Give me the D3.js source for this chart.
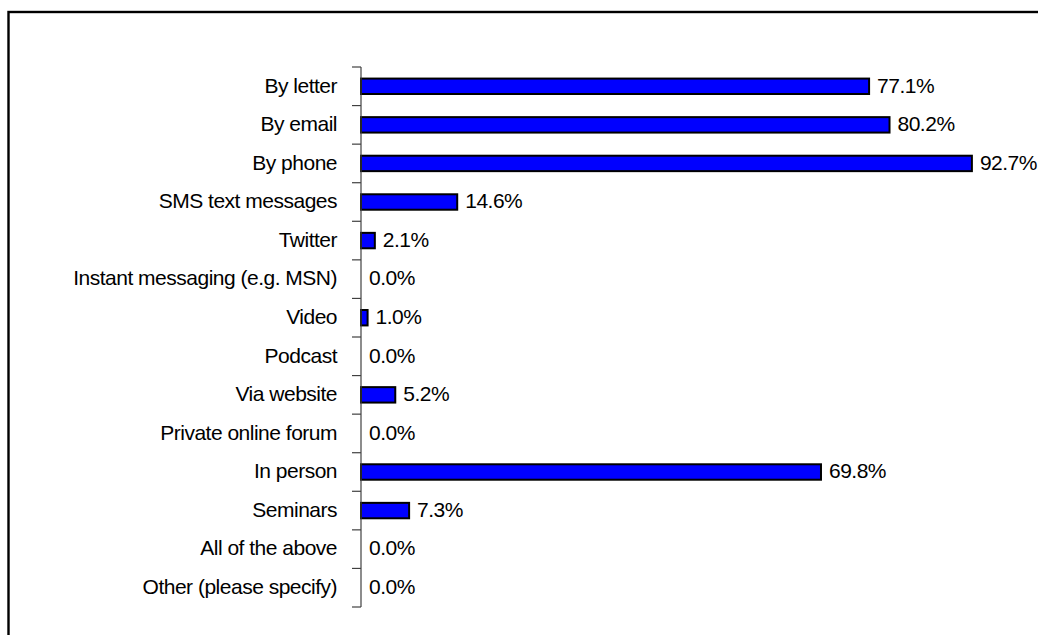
<!DOCTYPE html>
<html>
<head>
<meta charset="utf-8">
<script src="https://cdn.jsdelivr.net/npm/d3@7"></script>
<style>
  html, body { margin: 0; padding: 0; background: #fff; }
  svg { display: block; }
  text { font-family: "Liberation Sans", Arial, sans-serif; fill: #000; font-size: 21px; letter-spacing: -0.5px; }
</style>
</head>
<body>
<svg id="chart" width="1038" height="635"></svg>
<script>
// Contact channels and the share of respondents choosing each one (%)
const categories = [
  "By letter",
  "By email",
  "By phone",
  "SMS text messages",
  "Twitter",
  "Instant messaging (e.g. MSN)",
  "Video",
  "Podcast",
  "Via website",
  "Private online forum",
  "In person",
  "Seminars",
  "All of the above",
  "Other (please specify)"
];
const values = [77.1, 80.2, 92.7, 14.6, 2.1, 0.0, 1.0, 0.0, 5.2, 0.0, 69.8, 7.3, 0.0, 0.0];

const svg = d3.select("#chart");

// Outer frame (runs off the right and bottom edges)
svg.append("rect")
  .attr("x", 8.5).attr("y", 12)
  .attr("width", 1100).attr("height", 700)
  .attr("fill", "none")
  .attr("stroke", "#000")
  .attr("stroke-width", 2.4);

const x0 = 361, x1 = 1020, yTop = 67, yBottom = 607;

const x = d3.scaleLinear().domain([0, 100]).range([x0, x1]);
const y = d3.scaleBand()
  .domain(categories)
  .range([yTop, yBottom])
  .paddingInner(0.6)
  .paddingOuter(0.3);
const step = y.step();

const g = svg.append("g");

// Bars
g.selectAll("rect.bar")
  .data(categories.map((c, i) => ({ c, v: values[i] })).filter(d => d.v > 0))
  .join("rect")
  .attr("class", "bar")
  .attr("x", x(0))
  .attr("y", d => y(d.c))
  .attr("width", d => x(d.v) - x(0))
  .attr("height", y.bandwidth())
  .attr("fill", "#0000FF")
  .attr("stroke", "#000")
  .attr("stroke-width", 2);

// Category axis: vertical line with ticks at band boundaries
const axis = g.append("g");
axis.append("line")
  .attr("x1", x0).attr("x2", x0)
  .attr("y1", yTop).attr("y2", yBottom)
  .attr("stroke", "#404040").attr("stroke-width", 1.2);
axis.selectAll("line.tick")
  .data(d3.range(categories.length + 1))
  .join("line")
  .attr("class", "tick")
  .attr("x1", x0 - 9).attr("x2", x0)
  .attr("y1", i => yTop + i * step)
  .attr("y2", i => yTop + i * step)
  .attr("stroke", "#404040").attr("stroke-width", 1.2);

// Category labels
axis.selectAll("text.cat")
  .data(categories)
  .join("text")
  .attr("class", "cat")
  .attr("x", x0 - 24)
  .attr("y", d => y(d) + y.bandwidth() / 2)
  .attr("dy", "0.3em")
  .attr("text-anchor", "end")
  .text(d => d);

// Value labels
const fmt = d3.format(".1f");
g.selectAll("text.val")
  .data(categories.map((c, i) => ({ c, v: values[i] })))
  .join("text")
  .attr("class", "val")
  .attr("x", d => x(d.v) + 8)
  .attr("y", d => y(d.c) + y.bandwidth() / 2)
  .attr("dy", "0.3em")
  .attr("text-anchor", "start")
  .text(d => fmt(d.v) + "%");
</script>
</body>
</html>
